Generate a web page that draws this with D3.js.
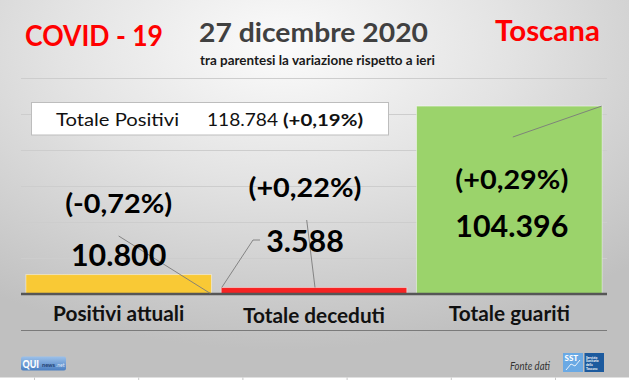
<!DOCTYPE html>
<html>
<head>
<meta charset="utf-8">
<script src="https://cdn.jsdelivr.net/npm/d3@7"></script>
<style>
  html, body { margin: 0; padding: 0; background: #fff; }
  svg { display: block; font-family: Lato, "Open Sans", sans-serif; }
</style>
</head>
<body>
<svg id="chart" width="629" height="380"></svg>
<script>
// ---- data ----
const categories = ["Positivi attuali", "Totale deceduti", "Totale guariti"];
const values = [10800, 3588, 104396];
const dailyChange = [-0.72, 0.22, 0.29];
const barColors = ["#f9c935", "#f62323", "#9bd36b"];
const yTicks = [0, 20000, 40000, 60000, 80000, 100000, 120000];
const totalLabel = "Totale Positivi";
const totalChange = 0.19;
const title = "COVID - 19";
const dateLabel = "27 dicembre 2020";
const subtitle = "tra parentesi la variazione rispetto a ieri";
const region = "Toscana";
const sourceLabel = "Fonte dati";

// Italian number formatting
const it = d3.formatLocale({ decimal: ",", thousands: ".", grouping: [3], currency: ["€", ""], minus: "-" });
const fmtInt = it.format(",");
const fmtPct = v => "(" + it.format("+.2f")(v) + "%)";

const W = 629, H = 380;
const CAP = 0.7165; // Lato cap height per em
const svg = d3.select("#chart");

// ---- background ----
const defs = svg.append("defs");
const bg = defs.append("radialGradient").attr("id", "bg")
  .attr("cx", "45%").attr("cy", "12%").attr("r", "80%");
bg.append("stop").attr("offset", "0").attr("stop-color", "#fbfbfb");
bg.append("stop").attr("offset", "0.45").attr("stop-color", "#e3e3e3");
bg.append("stop").attr("offset", "1").attr("stop-color", "#c0c0c0");
svg.append("rect").attr("width", W).attr("height", H).attr("fill", "url(#bg)");

// spreadsheet strip along the bottom edge
svg.append("rect").attr("x", 0).attr("y", 377.5).attr("width", W).attr("height", 3).attr("fill", "#ffffff");
d3.range(6).forEach(i => {
  svg.append("line").attr("x1", 34.5 + i * 104.2).attr("x2", 34.5 + i * 104.2)
    .attr("y1", 377.5).attr("y2", 380).attr("stroke", "#c8c8c8").attr("stroke-width", 1);
});

// helpers: size text by its cap height, then squeeze horizontally
function natural(text, weight, size, style) {
  const t = svg.append("text").attr("font-weight", weight).attr("font-style", style || "normal")
    .attr("font-size", size).text(text);
  const w = t.node().getComputedTextLength();
  t.remove();
  return w;
}
function squeeze(sel, capH, width) {
  const size = capH / CAP;
  sel.attr("font-size", size);
  const w = sel.node().getComputedTextLength();
  sel.attr("textLength", width).attr("lengthAdjust", "spacingAndGlyphs");
  return { size, ratio: width / w };
}
function applyRatio(sel, size, ratio) {
  sel.each(function () {
    const t = d3.select(this).attr("font-size", size);
    const w = this.getComputedTextLength();
    t.attr("textLength", w * ratio).attr("lengthAdjust", "spacingAndGlyphs");
  });
}

// ---- header ----
squeeze(svg.append("text").attr("x", 25).attr("y", 46)
  .attr("font-weight", 700).attr("fill", "#ff0000").text(title), 20.5, 138);
squeeze(svg.append("text").attr("x", 199).attr("y", 42)
  .attr("font-weight", 700).attr("fill", "#404040").text(dateLabel), 18.6, 229);
squeeze(svg.append("text").attr("x", 200).attr("y", 64.5)
  .attr("font-weight", 700).attr("fill", "#1a1a1a").text(subtitle), 9, 235);
squeeze(svg.append("text").attr("x", 495).attr("y", 41)
  .attr("font-weight", 700).attr("fill", "#ff0000").text(region), 19.8, 105);

// ---- scales ----
const x = d3.scaleBand().domain(categories).range([21, 607])
  .paddingInner(0.05).paddingOuter(0.025);
const y = d3.scaleLinear().domain([0, 120000]).range([294, 78]);

// gridlines
svg.append("g").selectAll("line").data(yTicks.slice(1)).join("line")
  .attr("x1", 21).attr("x2", 607)
  .attr("y1", d => Math.round(y(d)) + 0.5).attr("y2", d => Math.round(y(d)) + 0.5)
  .attr("stroke", "#cdcdcd").attr("stroke-width", 1);

// bars
svg.append("g").selectAll("rect").data(categories).join("rect")
  .attr("x", d => x(d)).attr("width", x.bandwidth())
  .attr("y", (d, i) => y(values[i])).attr("height", (d, i) => y(0) - y(values[i]))
  .attr("fill", (d, i) => barColors[i])
  .attr("stroke", "rgba(255,255,255,0.45)").attr("stroke-width", 1);

// baseline
svg.append("line").attr("x1", 21).attr("x2", 607).attr("y1", y(0)).attr("y2", y(0))
  .attr("stroke", "#565656").attr("stroke-width", 2.6);

// category labels and rule underneath
const catSize = 14.8 / CAP;
const catRatio = 142 / natural(categories[1], 700, catSize);
const catBase = [321, 323, 321];
const catText = svg.append("g").selectAll("text").data(categories).join("text")
  .attr("x", d => x(d) + x.bandwidth() / 2)
  .attr("y", (d, i) => catBase[i])
  .attr("text-anchor", "middle").attr("font-weight", 700)
  .attr("fill", "#111").text(d => d);
applyRatio(catText, catSize, catRatio);
svg.append("line").attr("x1", 21).attr("x2", 607).attr("y1", 330.5).attr("y2", 330.5)
  .attr("stroke", "#7a7a7a").attr("stroke-width", 1);

// ---- value and change labels ----
// per-category placement: horizontal shift from band centre, baselines above the axis
const labelPlace = [
  { dx: 0, pctUp: 81.5, valUp: 28.3 },
  { dx: -9, pctUp: 97, valUp: 42.3 },
  { dx: 2.5, pctUp: 105, valUp: 57.3 }
];
const pctSize = 19.5 / CAP;
const pctRatio = 113 / natural(fmtPct(dailyChange[2]), 700, pctSize);
const valSize = 22 / CAP;
const valRatio = 113 / natural(fmtInt(values[2]), 700, valSize);
const cx = i => x(categories[i]) + x.bandwidth() / 2 + labelPlace[i].dx;

// leader lines from the labels to their bars
const leader = svg.append("g").attr("fill", "none").attr("stroke", "#7b7b7b").attr("stroke-width", 0.9);
{
  const b0 = categories[0];
  leader.append("path").attr("d", d3.line()([
    [cx(0), y(0) - 58], [x(b0) + x.bandwidth() - 1, y(0) - 0.5]
  ]));
  const b1 = categories[1];
  leader.append("path").attr("d", d3.line()([
    [cx(1) - 45, y(0) - 54], [cx(1) - 52, y(0) - 54], [x(b1) + 0.5, y(values[1])]
  ]));
  leader.append("path").attr("d", d3.line()([
    [cx(1) + 1.7, y(0) - 74], [x(b1) + x.bandwidth() / 2 + 1, y(values[1])]
  ]));
  const b2 = categories[2];
  leader.append("path").attr("d", d3.line()([
    [cx(2) + 1, y(0) - 157], [x(b2) + x.bandwidth() - 0.5, y(values[2])]
  ]));
}

const lab = svg.append("g").attr("text-anchor", "middle").attr("font-weight", 700).attr("fill", "#000");
categories.forEach((c, i) => {
  applyRatio(lab.append("text").attr("x", cx(i)).attr("y", y(0) - labelPlace[i].pctUp)
    .text(fmtPct(dailyChange[i])), pctSize, pctRatio);
  applyRatio(lab.append("text").attr("x", cx(i)).attr("y", y(0) - labelPlace[i].valUp)
    .text(fmtInt(values[i])), valSize, valRatio);
});

// ---- total positives box ----
const total = d3.sum(values);
svg.append("rect").attr("x", 31.5).attr("y", 102.5).attr("width", 357).attr("height", 32.5)
  .attr("fill", "#ffffff").attr("stroke", "#bdbdbd").attr("stroke-width", 1);
squeeze(svg.append("text").attr("x", 56).attr("y", 125.7).attr("fill", "#111").text(totalLabel), 12.6, 123);
squeeze(svg.append("text").attr("x", 207).attr("y", 125.7).attr("fill", "#111").text(fmtInt(total)), 12.6, 71);
squeeze(svg.append("text").attr("x", 283).attr("y", 125.7).attr("font-weight", 700)
  .attr("fill", "#111").text(fmtPct(totalChange)), 12.6, 80);

// ---- footer: source note and badges ----
squeeze(svg.append("text").attr("x", 510).attr("y", 370).attr("font-style", "italic")
  .attr("fill", "#333").text(sourceLabel), 7.6, 40);

// QUInews badge
const q = svg.append("g");
const qg = defs.append("linearGradient").attr("id", "qg").attr("x1", 0).attr("x2", 0).attr("y1", 0).attr("y2", 1);
qg.append("stop").attr("offset", 0).attr("stop-color", "#9cc1ea");
qg.append("stop").attr("offset", 1).attr("stop-color", "#4b7fc2");
q.append("rect").attr("x", 21).attr("y", 356.5).attr("width", 45).attr("height", 14).attr("rx", 2)
  .attr("fill", "url(#qg)");
q.append("text").attr("x", 22.5).attr("y", 368).attr("font-weight", 900).attr("font-size", 10.5)
  .attr("fill", "#ffffff").attr("textLength", 16.5).attr("lengthAdjust", "spacingAndGlyphs").text("QUI");
q.append("text").attr("x", 42).attr("y", 367).attr("font-weight", 700).attr("font-size", 5.5)
  .attr("fill", "#1f3f70").attr("textLength", 13).attr("lengthAdjust", "spacingAndGlyphs").text("news");
q.append("text").attr("x", 56).attr("y", 367).attr("font-size", 5)
  .attr("fill", "#dfe9f7").attr("textLength", 8.5).attr("lengthAdjust", "spacingAndGlyphs").text(".net");

// SST badge
const s = svg.append("g");
s.append("rect").attr("x", 563).attr("y", 353).attr("width", 20).attr("height", 19).attr("fill", "#6aa9e4");
s.append("text").attr("x", 564.5).attr("y", 361).attr("font-weight", 900).attr("font-size", 8)
  .attr("fill", "#ffffff").text("SST");
s.append("path").attr("d", "M566,370 L571,364 L575,366 L580,360").attr("fill", "none")
  .attr("stroke", "#e9f2fb").attr("stroke-width", 1);
s.append("rect").attr("x", 584.5).attr("y", 353).attr("width", 19.5).attr("height", 19).attr("fill", "#1c5a9e");
["Servizio", "Sanitario", "della", "Toscana"].forEach((w, i) => {
  s.append("text").attr("x", 586).attr("y", 358.5 + i * 3.8).attr("font-size", 3.2)
    .attr("font-weight", 700).attr("fill", "#ffffff").text(w);
});
</script>
</body>
</html>
